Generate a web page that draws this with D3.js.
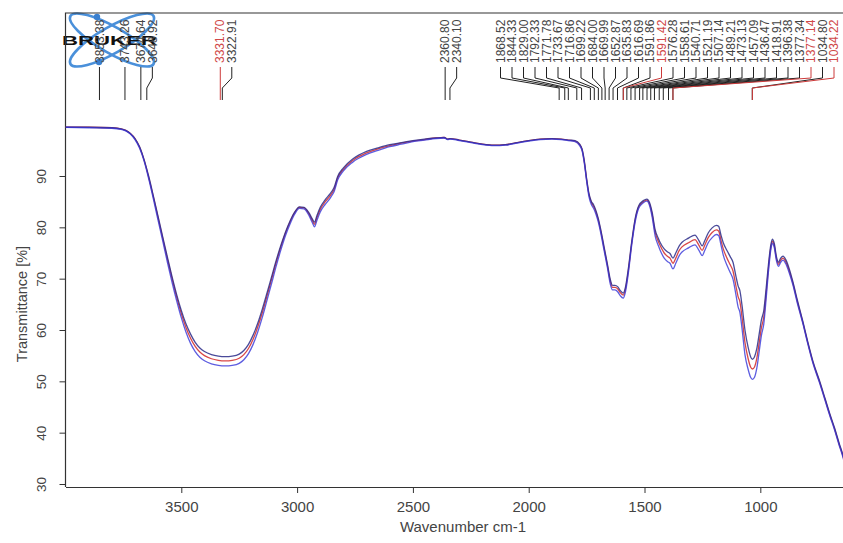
<!DOCTYPE html>
<html><head><meta charset="utf-8">
<script src="https://cdn.jsdelivr.net/npm/d3@7/dist/d3.min.js"></script>
<style>body{margin:0;background:#fff}svg{display:block}</style>
</head><body>
<svg id="chart" width="843" height="543"></svg>
<script>
// ---------- DATA ----------
const wavenumbers = [4000,3900,3800,3760,3740,3720,3700,3680,3660,3640,3620,3600,3580,3560,3540,3520,3500,3480,3460,3440,3420,3400,3370,3340,3310,3280,3250,3230,3210,3190,3170,3150,3130,3110,3090,3070,3050,3030,3010,2990,2970,2950,2935,2925,2915,2900,2880,2860,2850,2840,2825,2800,2760,2700,2650,2600,2550,2500,2450,2400,2365,2350,2340,2300,2250,2200,2150,2100,2050,2000,1950,1900,1860,1830,1800,1780,1770,1760,1750,1740,1730,1720,1710,1700,1690,1675,1660,1648,1638,1628,1615,1605,1592,1582,1570,1555,1540,1525,1505,1490,1478,1467,1454,1440,1433,1415,1400,1390,1377,1365,1350,1338,1310,1282,1265,1251,1240,1225,1208,1190,1180,1170,1160,1144,1130,1118,1105,1096,1088,1079,1066,1053,1042,1034,1025,1015,1005,995,985,975,965,955,948,940,930,922,912,902,890,875,860,840,816,795,772,745,720,700,680,660,643,630];

const seriesTop = [99.5,99.5,99.4,99.2,98.9,98.3,97.3,95.7,93.1,89.8,86.0,82.1,78.1,74.2,70.4,66.9,63.8,61.2,59.2,57.6,56.5,55.8,55.2,54.9,54.8,54.9,55.3,56.0,57.2,59.0,61.3,64.1,67.2,70.4,73.6,76.5,79.1,81.3,83.0,84.0,83.9,82.9,81.7,81.0,82.2,83.9,85.3,86.4,87.0,87.8,89.9,91.6,93.3,94.8,95.5,96.1,96.5,96.9,97.2,97.4,97.5,97.2,97.3,97.0,96.6,96.2,96.0,96.1,96.5,96.9,97.2,97.3,97.2,97.0,96.9,96.2,95.3,93.0,89.5,86.6,85.1,84.4,83.3,81.8,79.8,76.3,72.8,69.9,68.7,68.7,68.4,67.7,67.2,68.4,71.9,77.3,81.8,84.2,85.2,85.5,84.8,82.9,79.5,77.8,77.1,75.8,75.2,74.9,74.0,75.0,76.4,77.1,77.9,78.5,77.4,76.4,77.4,78.9,79.9,80.4,80.2,78.5,77.0,75.5,74.3,73.2,70.4,68.6,67.6,64.8,59.9,56.7,54.8,54.3,54.8,56.4,59.2,62.0,63.8,68.0,72.7,76.5,77.7,76.9,74.2,73.2,74.0,74.4,73.7,71.9,69.5,65.8,61.6,57.7,53.8,50.2,46.6,43.7,41.0,38.0,35.6,33.2];

const seriesMid = [99.5,99.5,99.4,99.2,98.9,98.3,97.3,95.6,93.0,89.6,85.8,81.8,77.8,73.8,70.0,66.4,63.2,60.5,58.4,56.8,55.7,55.0,54.4,54.1,54.0,54.1,54.5,55.2,56.4,58.2,60.6,63.4,66.6,69.9,73.2,76.2,78.9,81.1,82.9,83.9,83.8,82.7,81.4,80.6,81.8,83.5,84.9,86.0,86.6,87.4,89.6,91.3,93.0,94.5,95.3,95.9,96.4,96.8,97.1,97.4,97.5,97.2,97.3,97.0,96.6,96.2,96.0,96.1,96.5,96.9,97.2,97.3,97.2,97.0,96.8,96.1,95.2,92.8,89.3,86.4,84.9,84.1,83.0,81.5,79.5,76.0,72.5,69.5,68.3,68.3,68.0,67.3,66.8,68.0,71.5,77.0,81.5,84.0,85.0,85.3,84.5,82.5,79.0,77.2,76.5,75.0,74.3,74.0,73.0,74.0,75.5,76.2,77.0,77.6,76.5,75.5,76.5,78.0,79.0,79.5,79.3,77.5,75.8,74.0,72.7,71.5,68.5,66.5,65.5,62.5,57.5,54.5,52.8,52.4,52.8,54.5,57.5,60.5,62.5,67.0,72.0,76.0,77.3,76.5,73.8,72.8,73.6,74.0,73.3,71.5,69.2,65.5,61.4,57.5,53.6,50.0,46.4,43.5,40.8,37.8,35.4,33.0];

const seriesLow = [99.5,99.4,99.3,99.1,98.8,98.2,97.1,95.4,92.8,89.3,85.4,81.3,77.3,73.2,69.3,65.7,62.4,59.6,57.4,55.8,54.7,54.0,53.4,53.1,53.0,53.1,53.5,54.2,55.4,57.2,59.6,62.5,65.8,69.1,72.5,75.6,78.4,80.7,82.6,83.7,83.6,82.4,81.0,80.1,81.3,83.0,84.4,85.5,86.2,87.0,89.2,91.0,92.7,94.2,95.0,95.7,96.2,96.7,97.0,97.3,97.4,97.1,97.2,96.9,96.5,96.1,95.9,96.0,96.4,96.8,97.1,97.2,97.1,96.9,96.7,95.9,95.0,92.5,89.0,86.0,84.5,83.7,82.6,81.1,79.1,75.6,72.1,69.0,67.8,67.8,67.4,66.7,66.2,67.5,71.0,76.6,81.1,83.7,84.8,85.1,84.2,82.0,78.3,76.4,75.6,74.0,73.3,73.0,71.9,73.0,74.5,75.2,76.0,76.6,75.5,74.5,75.5,77.0,78.0,78.6,78.4,76.6,74.6,72.6,71.2,69.9,66.8,64.5,63.4,60.3,55.1,52.4,50.8,50.4,50.8,52.6,55.8,59.0,61.2,66.0,71.3,75.5,76.9,76.1,73.4,72.4,73.2,73.6,72.9,71.1,68.9,65.2,61.2,57.3,53.4,49.8,46.2,43.3,40.6,37.6,35.2,32.8];

const xTickValues = [3500,3000,2500,2000,1500,1000];
const yTickValues = [30,40,50,60,70,80,90];

const peakWavenumbers = [3853.38,3743.26,3674.64,3648.92,3331.70,3322.91,2360.80,2340.10,1868.52,1844.33,1829.00,1792.33,1771.78,1733.67,1716.86,1699.22,1684.00,1669.99,1652.87,1635.83,1616.69,1591.86,1591.42,1576.28,1558.61,1540.71,1521.19,1507.14,1489.21,1473.13,1457.09,1436.47,1418.91,1396.38,1377.34,1377.14,1034.80,1034.22];
const peakLabels = peakWavenumbers.map(d => d.toFixed(2));
const peakHighlighted = [false,false,false,false,true,false,false,false,false,false,false,false,false,false,false,false,false,false,false,false,false,false,true,false,false,false,false,false,false,false,false,false,false,false,false,true,false,true];

// ---------- LAYOUT ----------
const plotLeft = 65.5, plotRight = 843, plotTop = 13, plotBottom = 487;
const svg = d3.select('#chart');
const x = d3.scaleLinear().domain([4000, 643]).range([plotLeft, plotRight]);
const y = d3.scaleLinear().domain([30, 90]).range([484, 176]);
const axisColor = '#333';
const textColor = '#444';
const font = 'Liberation Sans, Arial, sans-serif';

// clip
svg.append('defs').append('clipPath').attr('id','clip')
  .append('rect').attr('x',plotLeft).attr('y',plotTop).attr('width',plotRight-plotLeft).attr('height',plotBottom-plotTop);

// Bruker logo
const logo = svg.append('g');
[30,-30].forEach(a => {
  logo.append('ellipse').attr('cx',112).attr('cy',40).attr('rx',48).attr('ry',13)
    .attr('transform',`rotate(${a},112,40)`)
    .attr('fill','none').attr('stroke','#4a90da').attr('stroke-width',2.6);
});
[[97,17],[99,62]].forEach(p => logo.append('circle').attr('cx',p[0]).attr('cy',p[1]).attr('r',3.2).attr('fill','#3a80d0'));
logo.append('text').attr('x',62).attr('y',44.5).attr('textLength',95).attr('lengthAdjust','spacingAndGlyphs')
  .style('font-family',font).style('font-weight','bold').style('font-size','13.5px').attr('fill','#111')
  .text('BRUKER');

// Frame (top and left)
svg.append('path').attr('d',`M${plotLeft},${plotBottom}V${plotTop}H${plotRight+5}`)
  .attr('fill','none').attr('stroke',axisColor).attr('stroke-width',1.2);

// X axis
const gx = svg.append('g').attr('transform',`translate(0,${plotBottom})`)
  .call(d3.axisBottom(x).tickValues(xTickValues).tickSize(6).tickSizeOuter(0).tickPadding(8).tickFormat(d3.format('d')));
gx.select('.domain').attr('stroke',axisColor).attr('stroke-width',1.2);
gx.selectAll('.tick line').attr('stroke',axisColor);
gx.selectAll('.tick text').attr('fill',textColor).style('font-family',font).style('font-size','15px');

// Y axis
const gy = svg.append('g').attr('transform',`translate(${plotLeft},0)`)
  .call(d3.axisLeft(y).tickValues(yTickValues).tickSize(6).tickSizeOuter(0));
gy.select('.domain').remove();
gy.selectAll('.tick line').attr('stroke',axisColor);
gy.selectAll('.tick text').attr('x',0).attr('dy','0.35em')
  .attr('transform','translate(-24,0) rotate(-90)').attr('text-anchor','middle')
  .attr('fill',textColor).style('font-family',font).style('font-size','13.5px');

// Axis titles
svg.append('text').attr('x',463).attr('y',532).attr('text-anchor','middle')
  .attr('fill',textColor).style('font-family',font).style('font-size','15px').text('Wavenumber cm-1');
svg.append('text').attr('transform','translate(22,304) rotate(-90)').attr('dy','0.35em').attr('text-anchor','middle')
  .attr('fill',textColor).style('font-family',font).style('font-size','14.5px').text('Transmittance [%]');

// Spectra
const line = vals => d3.line().x((d,i)=>x(wavenumbers[i])).y(d=>y(d)).curve(d3.curveMonotoneX)(vals);
const gl = svg.append('g').attr('clip-path','url(#clip)');
gl.append('path').attr('d',line(seriesMid)).attr('fill','none').attr('stroke','#d94848').attr('stroke-width',1.3);
gl.append('path').attr('d',line(seriesTop)).attr('fill','none').attr('stroke','#2a2a88').attr('stroke-width',1.3).attr('opacity',0.85);
gl.append('path').attr('d',line(seriesLow)).attr('fill','none').attr('stroke','#3434d8').attr('stroke-width',1.3).attr('opacity',0.8);

// Peak labels
const gap = 11.5, maxLabelX = 834;
const px = peakWavenumbers.map(w => x(w));
const lx = [];
px.forEach((p,i) => { lx[i] = i === 0 ? p : Math.max(p, lx[i-1] + gap); });
const n = lx.length;
if (lx[n-1] > maxLabelX) {
  lx[n-1] = maxLabelX;
  for (let i = n-2; i >= 0; i--) lx[i] = Math.min(lx[i], lx[i+1] - gap);
}
const gp = svg.append('g');
peakWavenumbers.forEach((w,i) => {
  const col = peakHighlighted[i] ? '#cc3a3a' : '#222';
  const tcol = peakHighlighted[i] ? '#d04848' : '#444';
  const d = Math.abs(lx[i]-px[i]) < 0.6
    ? `M${px[i]},67V100`
    : `M${lx[i]},67V78L${px[i]},88V100`;
  gp.append('path').attr('d',d).attr('fill','none').attr('stroke',col).attr('stroke-width',1);
  gp.append('text').attr('transform',`translate(${lx[i]},63) rotate(-90)`).attr('dy','0.35em')
    .attr('fill',tcol).style('font-family',font).style('font-size','12px').text(peakLabels[i]);
});
</script>
</body></html>
